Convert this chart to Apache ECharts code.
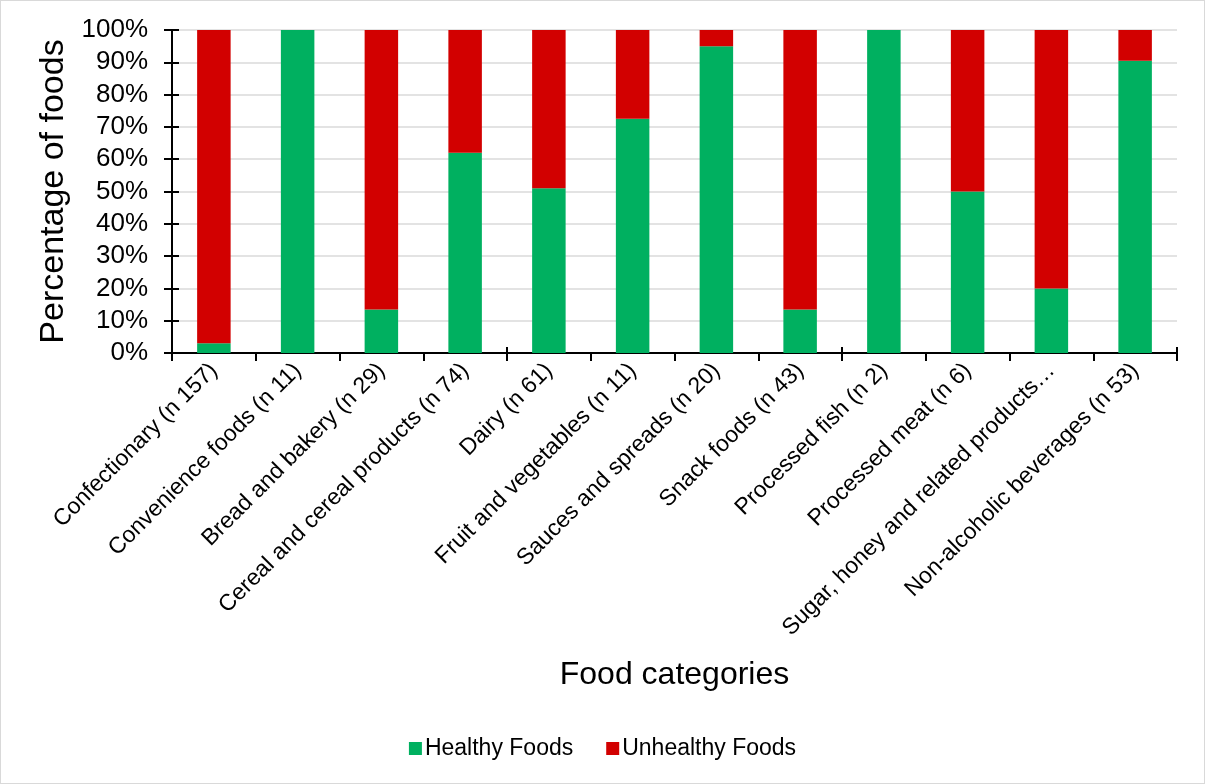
<!DOCTYPE html>
<html>
<head>
<meta charset="utf-8">
<script src="https://cdn.jsdelivr.net/npm/echarts@6/dist/echarts.min.js"></script>
<style>
  html, body { margin: 0; padding: 0; background: #fff; }
  #main { width: 1203px; height: 782px; border: 1px solid #d9d9d9; }
</style>
</head>
<body>
<div id="main"></div>
<script>
// categories and shares (percent)
var categories = [
  'Confectionary (n 157)', 'Convenience foods (n 11)', 'Bread and bakery (n 29)',
  'Cereal and cereal products (n 74)', 'Dairy (n 61)', 'Fruit and vegetables (n 11)',
  'Sauces and spreads (n 20)', 'Snack foods (n 43)', 'Processed fish (n 2)',
  'Processed meat (n 6)', 'Sugar, honey and related products\u2026', 'Non-alcoholic beverages (n 53)'
];
var healthy = [3, 100, 13.5, 62, 51, 72.5, 95, 13.5, 100, 50, 20, 90.5];
var unhealthy = [97, 0, 86.5, 38, 49, 27.5, 5, 86.5, 0, 50, 80, 9.5];

var chart = echarts.init(document.getElementById('main'));
var font = 'Arial, "Liberation Sans", sans-serif';
var tickStyle = { color: '#000', width: 2 };

var option = {
  animation: false,
  textStyle: { fontFamily: font },
  grid: { left: 171, right: 27, top: 29, bottom: 430, containLabel: false },
  legend: {
    bottom: 18,
    left: 'center',
    itemWidth: 13, itemHeight: 13, itemGap: 33,
    icon: 'rect',
    textStyle: { fontSize: 23, color: '#000', fontFamily: font, padding: [0, 0, 0, -2] },
    data: ['Healthy Foods', 'Unhealthy Foods']
  },
  xAxis: [{
    type: 'category',
    data: categories,
    name: 'Food categories',
    nameLocation: 'middle',
    nameGap: 306,
    nameTextStyle: { fontSize: 32, color: '#000', fontFamily: font },
    axisLine: { lineStyle: tickStyle },
    axisTick: { show: true, length: 8, lineStyle: tickStyle },
    axisLabel: { rotate: 45, fontSize: 23, color: '#000', margin: 14, interval: 0, fontFamily: font }
  }, {
    // second copy only to draw the inner half of the crossing ticks
    type: 'category', data: categories, position: 'bottom',
    axisLine: { show: false },
    axisTick: { show: true, inside: true, length: 6, lineStyle: tickStyle },
    axisLabel: { show: false }
  }],
  yAxis: [{
    type: 'value',
    min: 0, max: 100, interval: 10,
    name: 'Percentage of foods',
    nameLocation: 'middle',
    nameGap: 95,
    nameTextStyle: { fontSize: 34, color: '#000', fontFamily: font },
    axisLine: { show: true, lineStyle: tickStyle },
    axisTick: { show: true, length: 8, lineStyle: tickStyle },
    axisLabel: { formatter: '{value}%', fontSize: 26, color: '#000', margin: 24, fontFamily: font },
    splitLine: { lineStyle: { color: '#e3e3e3', width: 2 } }
  }, {
    type: 'value', min: 0, max: 100, interval: 10, position: 'left',
    axisLine: { show: false },
    axisTick: { show: true, inside: true, length: 7, lineStyle: tickStyle },
    axisLabel: { show: false },
    splitLine: { show: false }
  }],
  series: [
    {
      name: 'Healthy Foods', type: 'bar', stack: 'total',
      data: healthy, barWidth: '40%',
      itemStyle: { color: '#00B060' }
    },
    {
      name: 'Unhealthy Foods', type: 'bar', stack: 'total',
      data: unhealthy, barWidth: '40%',
      itemStyle: { color: '#D20000' }
    }
  ]
};
chart.setOption(option);
</script>
</body>
</html>
